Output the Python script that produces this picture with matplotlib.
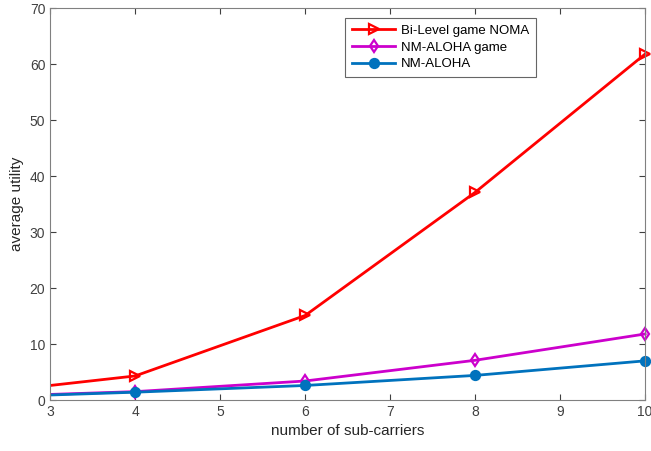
import numpy as np
import matplotlib.pyplot as plt

plt.rcParams['font.family'] = ['Liberation Sans', 'DejaVu Sans']

x = [2, 4, 6, 8, 10]
bilevel = [0.9, 4.3, 15.1, 37.1, 61.8]
nm_game = [0.5, 1.5, 3.4, 7.1, 11.8]
nm_aloha = [0.4, 1.4, 2.6, 4.4, 7.0]

fig = plt.figure(figsize=(6.51, 4.51), dpi=100)
ax = fig.add_axes([0.077, 0.113, 0.914, 0.869])

series = [
    (bilevel, 'r', '>', 'Bi-Level game NOMA', 'none'),
    (nm_game, '#cc00cc', 'd', 'NM-ALOHA game', 'none'),
    (nm_aloha, '#0072bd', 'o', 'NM-ALOHA', None),
]
for y, c, m, lab, mfc in series:
    ax.plot(x[:2], y[:2], color=c, lw=2)
    kw = dict(markerfacecolor=mfc) if mfc else {}
    ax.plot(x[1:], y[1:], color=c, lw=2, marker=m, markersize=6.5,
            markeredgewidth=1.6, label=lab, clip_on=False, **kw)

ax.set_xlim(3, 10)
ax.set_ylim(0, 70)
ax.set_xticks(range(3, 11))
ax.set_yticks(range(0, 71, 10))
ax.tick_params(direction='in', top=True, right=True, colors='#404040',
               labelsize=10, length=4)
for s in ax.spines.values():
    s.set_color('#808080')
ax.set_xlabel('number of sub-carriers', fontsize=11, color='#262626')
ax.set_ylabel('average utility', fontsize=11, color='#262626')

leg = ax.legend(loc='upper left', bbox_to_anchor=(0.496, 0.975), fontsize=9.5,
                fancybox=False, edgecolor='#404040', borderaxespad=0,
                handlelength=3.3, handletextpad=0.4, labelspacing=0.35,
                borderpad=0.5)
leg.get_frame().set_linewidth(0.8)

fig.savefig('out.png')
